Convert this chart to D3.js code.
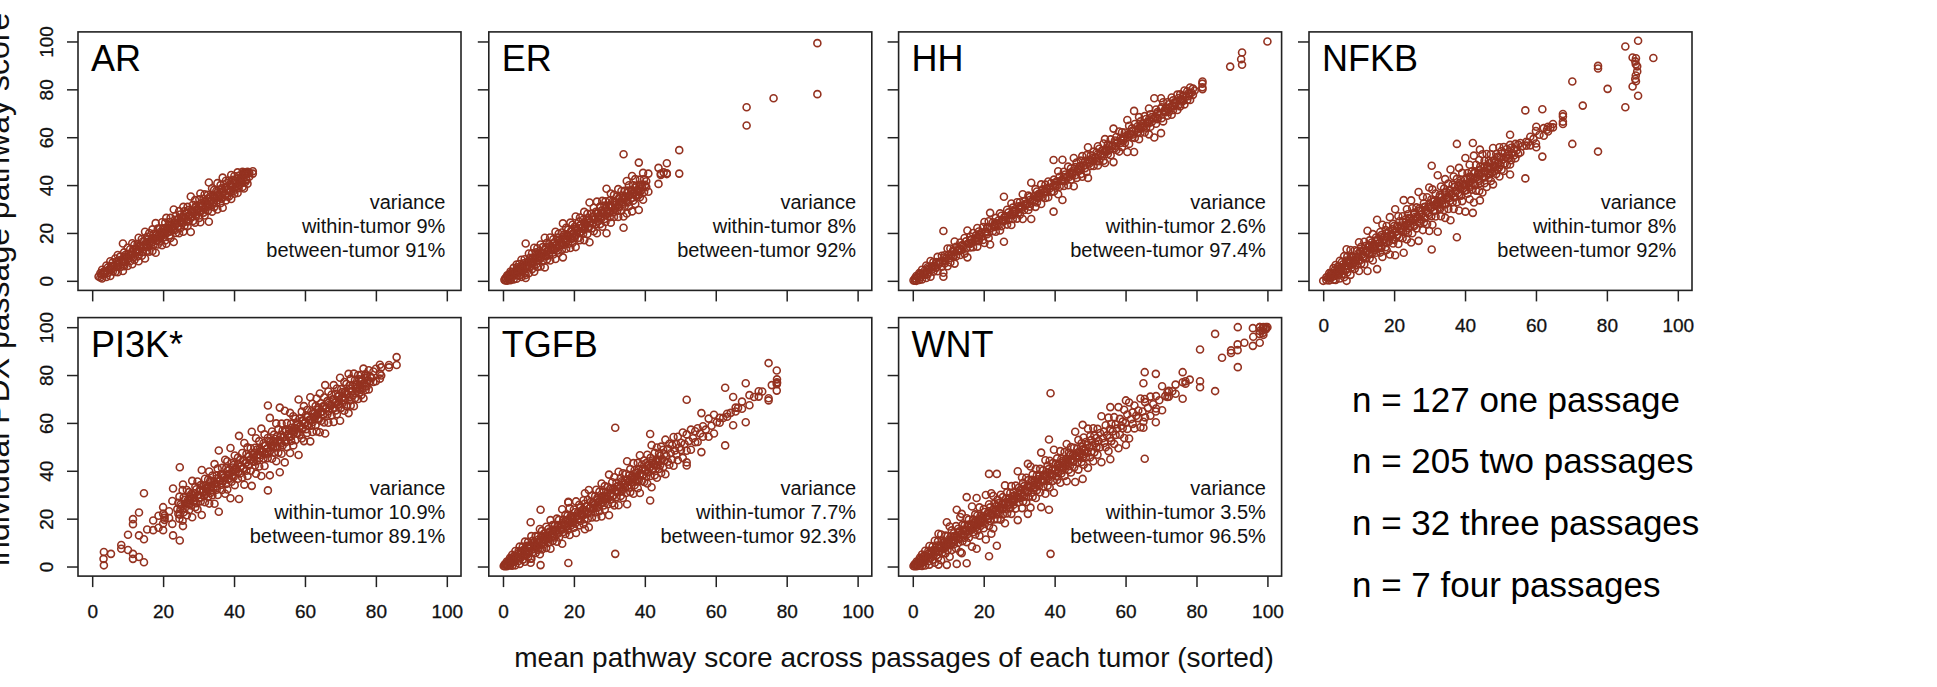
<!DOCTYPE html>
<html><head><meta charset="utf-8">
<script src="https://cdn.jsdelivr.net/npm/d3@7"></script>
<style>body{margin:0;background:#fff}svg{display:block}text{font-family:"Liberation Sans",Arial,sans-serif}</style>
</head><body><svg id="c" width="1937" height="687"></svg>
<script>
const pathways = ["AR","ER","HH","NFKB","PI3K*","TGFB","WNT"];
const withinTumor = ["9%","8%","2.6%","8%","10.9%","7.7%","3.5%"];
const betweenTumor = ["91%","92%","97.4%","92%","89.1%","92.3%","96.5%"];
const axisTicks = [0,20,40,60,80,100];
const nLines = ["n = 127 one passage","n = 205 two passages","n = 32 three passages","n = 7 four passages"];
const xTitle = "mean pathway score across passages of each tumor (sorted)";
const yTitle = "individual PDX passage pathway score";

// each entry = pathway scores of the passages of one tumor (x = their mean)
const AR = [[1.8],[3.2,1.4],[4.6,1.0],[3.2],[4.1,3.1],[6.4,1.6],[5.6,3.2],[4.7],[8.2,2.0],[6.2,4.6],[7.7,3.9],[6.2],[9.3,3.7],[8.0,5.8],[10.8,3.6],[7.6],[10.1,5.7],[8.9,7.7],[15.6,4.1,6.3],[11.9,6.1],[10.8,7.8],[9.7],[13.8,6.2],[11.2,9.4],[13.2,8.2],[11.0],[15.7,6.9],[13.3,9.9],[15.1,8.7],[12.2],[13.2,11.8],[15.4,10.2],[18.0,8.2],[14.7,12.1],[13.7],[17.5,10.5],[16.4,12.2],[15.0,14.2],[20.5,9.3],[15.2],[18.4,12.6],[17.4,14.2],[20.0,12.2],[16.4],[17.5,15.9],[21.5,12.5],[19.6,15.0],[17.6],[24.1,11.7],[19.6,16.8],[21.8,15.2],[18.8],[21.8,16.4],[20.0,18.8],[24.5,14.9],[21.9,18.1],[20.3],[24.3,16.9],[26.3,15.5],[22.3,20.1],[21.5],[24.6,19.0],[26.3,17.9],[23.3,21.5],[22.7],[29.8,16.2],[25.5,21.1],[27.2,20.0],[23.9],[25.7,22.7],[29.1,19.9],[27.7,21.9],[25.1],[26.1,24.7],[30.9,20.5],[29.1,22.9],[26.3],[28.4,24.8],[30.9,22.9],[29.6,24.8],[27.5],[35.2,20.4],[29.3,26.9],[31.8,25.0],[28.7],[33.7,24.3],[31.4,27.2],[30.1,29.1],[29.9],[34.1,26.3],[36.5,24.5],[32.4,29.2],[31.1],[34.3,28.5],[36.1,27.3],[32.9,31.1],[32.3],[35.9,29.3],[41.1,24.7],[35.2,31.2],[33.5],[38.7,28.9],[35.4,32.8],[38.0,30.8],[34.7],[37.5,32.5],[40.8,29.8],[36.3,34.9],[35.9],[40.0,32.4],[38.7,34.3],[43.1,30.5],[37.1],[38.9,35.9],[41.8,33.6],[40.8,35.2],[38.3],[41.9,35.3],[39.9,37.9],[44.2,34.2],[39.5],[42.2,37.4],[43.8,36.4],[41.8,39.0],[40.7],[45.3,36.7],[43.9,38.7],[41.7],[42.8,41.2],[45.6,39.2],[45.2,44.6,38.6],[45.1,41.3],[44.9,42.1],[45.3,40.6,45.5],[45.1,43.5],[45.8,44.8]];
const AR2 = [[2.6],[3.9,2.7],[5.0],[5.9,4.9],[7.1],[8.2,6.6],[9.0],[10.1,8.3],[10.6],[12.0,10.4],[12.9],[14.3,12.5],[14.4],[16.2,14.4],[16.0],[17.9,16.1],[17.2],[19.1,17.1],[18.4],[20.5,18.1],[19.8],[21.7,19.3],[21.0],[23.1,20.5],[22.2],[24.3,21.7],[23.5],[25.7,22.9],[24.7],[26.9,24.1],[26.0],[28.1,25.5],[27.0],[29.5,26.5],[28.4],[30.7,27.7],[29.4],[31.9,28.9],[30.8],[33.1,30.1],[32.0],[34.3,31.3],[33.2],[35.7,32.5],[34.4],[36.9,33.7],[35.6],[38.1,34.9],[36.8],[39.3,36.1],[38.0],[40.5,37.3],[39.2],[41.7,38.5],[40.4],[42.9,39.5],[41.4],[43.9,40.9],[42.4],[44.3,42.5]];

const ER = [[0.4],[1.2,0.2],[2.3,0.1],[1.3],[2.4,0.8],[3.9,0.3],[2.2],[3.7,1.3],[5.4,0.6],[3.1],[4.0,2.8],[6.8,0.9],[5.7,2.3],[4.3],[7.0,2.2],[5.8,4.0],[8.8,1.6],[5.5],[7.3,4.3],[9.0,3.2],[15.6,2.4,1.2],[6.7],[7.7,6.3],[11.4,3.2],[9.6,5.6],[7.9],[11.5,4.9],[9.6,7.4],[13.8,3.8],[9.1],[11.9,6.9],[13.6,5.8],[11.4,8.6],[10.3],[15.2,6.0],[11.7,10.1],[14.1,8.3],[11.5],[18.0,5.6],[14.0,10.2],[15.9,8.9],[12.7],[15.3,10.7],[18.1,8.5],[14.2,13.0],[13.9],[17.4,11.0],[16.1,12.9],[20.5,9.1],[15.1],[18.1,12.7],[19.7,11.7],[17.2,14.8],[16.3],[20.2,13.0],[24.0,9.8],[19.3,15.1],[17.5],[22.2,13.4],[19.0,17.2],[21.4,15.4],[18.7],[24.3,13.7],[21.1,17.5],[23.4,15.8],[19.9],[22.6,17.8],[26.9,14.1],[21.8,19.8],[21.1],[24.8,18.0],[26.4,17.0],[23.6,20.4],[22.3],[25.5,19.7],[28.8,17.0],[23.9,22.5],[23.5],[28.0,19.6],[26.3,21.9],[32.7,16.1],[24.7],[28.1,21.9],[26.6,24.0],[30.5,20.7],[25.9],[28.8,23.6],[33.1,19.9],[28.7,24.9],[27.1],[31.1,23.7],[28.5,26.9],[33.4,22.6],[28.3],[31.4,25.8],[33.2,24.6],[38.5,19.9],[29.5],[31.3,28.3],[33.6,26.6],[36.5,24.3],[30.7],[33.3,28.7],[35.9,26.7],[32.7,30.5],[31.9],[35.2,29.2],[38.3,26.7],[34.8,30.8],[33.1],[37.5,29.3],[34.6,32.8],[52.9,22.2,26.9],[37.6,31.0],[34.6],[41.7,28.1],[37.7,32.7],[39.9,31.1],[35.8],[37.7,34.5],[43.8,29.0],[39.9,33.5],[37.0],[42.5,32.1],[39.7,35.5],[37.9],[49.4,29.6,35.9],[42.3,34.9],[40.1,37.7],[39.2],[45.1,33.9],[42.5,37.1],[40.1],[41.6,39.2],[44.8,37.2],[47.2,40.5],[44.8,44.2],[45.3],[49.1,44.9,44.6],[54.6,44.8],[72.5,64.9],[76.3],[99.3,78]];
const ER2 = [[1.6],[2.9,1.5],[3.6],[4.9,3.3],[5.2],[6.6,4.8],[6.4],[8.0,6.0],[7.6],[9.2,7.2],[8.9],[10.6,8.2],[10.0],[11.8,9.4],[11.2],[13.0,10.6],[12.5],[14.4,11.8],[13.6],[15.6,13.0],[14.8],[16.8,14.2],[16.0],[18.2,15.4],[17.2],[19.4,16.6],[18.4],[20.6,17.8],[19.6],[21.8,19.0],[20.8],[23.0,20.2],[22.0],[24.4,21.4],[23.3],[25.6,22.6],[24.4],[26.8,23.8],[25.6],[28.0,25.0],[26.8],[29.4,26.2],[28.0],[30.6,27.4],[29.2],[31.8,28.6],[30.4],[33.0,29.8],[31.6],[34.2,31.0],[32.8],[35.6,32.2],[34.0],[36.8,33.4],[35.2],[38.0,34.6],[36.4],[39.0,35.8],[37.6],[40.0,37.0],[38.6]];

const HH = [[0.2],[1.1,0.1],[2.0,0.0],[1.4],[3.2,0.4],[2.8,1.6],[4.6,0.6],[3.0],[4.3,2.5],[6.4,1.2],[5.7,2.7],[4.6],[8.3,1.7],[6.1,4.7],[7.8,3.8],[6.2],[7.8,5.4],[10.0,4.0],[7.8,7.0],[7.8],[10.5,5.9],[20.8,1.7,3.4],[10.7,7.3],[9.4],[13.5,6.1],[11.0,9.4],[13.5,7.7],[11.0],[12.8,10.0],[16.4,7.2],[14.2,10.2],[12.6],[13.5,12.5],[16.0,10.8],[14.8,12.8],[14.2],[17.9,11.3],[16.5,13.5],[21.0,9.8],[15.8],[18.5,13.9],[17.3,15.9],[20.0,14.0],[17.4],[19.0,16.6],[22.1,14.3],[20.6,16.6],[19.0],[20.3,18.5],[22.5,17.1],[24.6,15.8],[20.6],[22.5,19.5],[24.9,17.9],[28.4,15.2],[22.2],[24.5,20.7],[23.5,22.5],[26.3,20.5],[23.8],[25.3,23.1],[28.2,21.0],[27.2,22.8],[25.4],[35.1,16.3],[27.0,25.4],[29.7,23.5],[28.6,25.4],[27.4],[32.3,23.3],[30.6,25.8],[29.2,28.0],[29.0],[32.8,26.0],[31.1,28.5],[32.8,27.6],[30.6],[36.2,25.8],[33.2,29.6],[32.2,31.4],[32.2],[35.6,29.6],[35.0,31.0],[41.0,25.8],[33.8],[35.4,33.0],[38.3,30.9],[37.3,32.7],[35.4],[36.6,35.0],[40.3,32.1],[38.2,35.0],[37.0],[40.2,34.6],[38.3,37.3],[41.5,34.9],[38.6],[40.9,37.1],[50.5,28.9],[42.3,37.3],[40.2],[41.6,39.6],[45.8,36.2],[43.5,39.3],[41.8],[33.8,50.6,42.2],[45.6,39.6],[44.4,41.6],[43.4],[47.7,39.9],[44.9,43.5],[47.0,42.2],[45.0],[51.3,39.5],[47.5,44.1],[49.4,43.0],[46.6],[47.9,46.1],[50.2,44.6],[52.1,43.5],[48.2],[50.1,47.1],[52.5,45.5],[55.8,43.0],[49.8],[52.4,48.0],[51.2,50.0],[54.0,48.0],[51.4],[53.6,50.0],[56.2,48.2],[55.2,50.0],[53.0],[54.5,52.3],[57.4,50.2],[59.2,49.2],[54.6],[57.0,53.0],[56.2,54.6],[59.1,52.5],[56.2],[63.6,49.6],[58.6,55.4],[60.1,54.7],[57.8],[62.4,54.0],[59.6,57.6],[62.1,55.9],[59.4],[62.0,57.6],[67.2,53.8],[61.1,60.1],[64.8,57.2],[61.4],[63.7,59.9],[71.0,53.8],[65.5,59.7],[63.0],[64.6,62.2],[68.4,59.2],[66.6,61.8],[64.6],[65.7,64.3],[68.8,62.0],[67.6,64.0],[66.2],[72.0,61.2],[69.6,64.4],[68.4,66.4],[67.8],[76.3,59.9],[71.6,65.6],[70.5,67.5],[69.4],[76.3,61.7,72],[72.5,67.9],[74.6,66.6],[71.0],[72.3,70.5],[74.6,69.0],[73.8,70.6],[72.6],[76.6,69.4],[75.4,71.4],[74.4,73.2],[74.2],[77.8,71.4],[76.4,73.6],[77.9,72.9],[75.8],[77.3,75.1],[79.5,73.7],[77.0],[79.2,75.6],[78.5,77.1],[80.8,75.6],[78.6],[80.3,77.7],[79.5],[83.3,80.1],[82.4,80.9],[89.5],[95.4,90.3],[92.6],[100]];
const HH2 = [[0.9],[2.6,1.4],[3.6],[5.0,3.6],[6.0],[7.4,5.8],[8.4],[9.8,8.2],[10.8],[12.2,10.6],[13.2],[14.6,13.0],[15.6],[17.0,15.4],[18.0],[19.4,17.8],[20.4],[21.8,20.2],[22.8],[24.2,22.6],[25.2],[26.6,25.0],[27.6],[29.0,27.4],[30.0],[31.4,29.8],[32.4],[33.8,32.2],[34.8],[36.2,34.6],[37.2],[38.6,37.0],[39.6],[41.0,39.4],[42.0],[43.4,41.8],[44.4],[45.8,44.2],[46.8],[48.2,46.6],[49.2],[50.6,49.0],[51.6],[53.0,51.4],[54.0],[55.4,53.8],[56.4],[57.8,56.2],[58.8],[60.2,58.6],[61.2],[62.6,61.0],[63.6],[65.0,63.4],[66.0],[67.4,65.8],[68.4],[69.8,68.2],[70.8],[72.2,70.6],[73.2],[74.6,73.0],[75.6],[77.0,75.4],[78.0]];

const NFKB = [[0],[0,13.2],[1.5,0.3],[1.3],[3.2,0.2],[2.9,1.3],[2.5],[5.3,0.5],[4.4,2.0],[6.6,0.4],[3.8],[5.9,2.3],[4.9,3.9],[8.4,1.0],[5.0],[7.9,2.7],[6.9,4.3],[10.3,1.5],[6.2],[8.5,4.5],[10.1,3.5],[8.0,6.2],[7.4],[12.9,2.5],[10.4,5.6],[9.8,6.8],[8.6],[12.8,5.0],[9.9,8.5],[12.4,6.6],[9.8],[16.1,4.1],[12.3,8.5],[14.2,7.2],[11.0],[12.4,10.2],[16.3,6.9],[14.5,9.3],[12.2],[20.9,4.1],[14.4,11.2],[16.9,9.3],[13.4],[16.0,11.4],[19.5,8.5],[15.1,13.5],[14.6],[18.1,11.7],[25.5,4.9],[17.4,13.6],[15.8],[20.4,11.8],[19.1,13.7],[23.4,10.0],[17.0],[18.6,16.0],[21.2,14.0],[22.9,12.9],[18.2],[20.7,16.3],[26.6,11.0],[19.7,18.5],[19.4],[23.8,15.6],[22.9,17.1],[29.9,10.7],[20.6],[22.6,19.2],[27.0,15.4],[24.9,18.1],[21.8],[23.1,21.1],[27.0,17.8],[33.7,11.7],[23.0],[25.7,20.9],[29.9,17.3],[27.8,20.0],[24.2],[26.0,23.0],[33.6,16.0],[30.3,19.9],[25.4],[28.5,22.9],[26.8,25.2],[30.7,21.9],[26.6],[37.1,16.7],[30.3,24.1],[29.4,25.6],[27.8],[35.0,21.2],[32.4,24.4],[30.9,26.5],[29.0],[34.9,23.7],[30.8,28.4],[39.0,20.8],[30.2],[48.1,13.1],[34.0,27.0],[38.2,23.4],[33.1,29.1],[31.4],[36.5,26.9],[32.7,31.3],[44.1,20.5],[32.6],[35.9,29.9],[39.4,27.0],[35.1,31.9],[33.8],[38.6,29.6],[42.5,26.3],[37.3,32.1],[35.0],[40.6,30.0],[36.6,34.6],[46.5,25.3],[36.2],[40.2,32.8],[43.6,30.0],[39.2,35.0],[37.4],[57.2,18.2],[42.6,32.8],[39.4,36.6],[47.2,29.4],[38.6],[42.2,35.6],[45.1,33.3],[40.3,38.7],[39.8],[51.3,28.9],[42.9,37.9],[45.0,36.4],[41.0],[48.5,34.1],[43.4,39.8],[45.7,38.1],[57.6,28.4,40.6],[42.2],[52.3,32.7],[45.7,39.9],[48.5,37.7],[43.4],[44.9,42.5],[50.5,37.5],[54.8,33.6],[47.7,40.9],[44.6],[52.9,36.9],[47.2,43.2],[50.2,40.8],[45.8],[53.0,39.2],[47.9,44.9],[50.3,43.1],[47.0],[52.9,41.7],[50.0,45.2],[55.5,40.3],[48.2],[49.4,47.6],[53.0,44.6],[51.8,46.4],[49.4],[55.8,43.6],[51.6,48.4],[54.2,46.4],[50.6],[55.9,45.9],[53.4,49.0],[51.5],[55.1,48.5],[53.1,51.1],[61,44.4],[52.4],[56.8,48.6],[55.6,50.4],[53.4],[55.2,52.4],[57.2,51.2],[54.6],[56.9,53.1],[57.6,53.6],[56.2],[71.2,42.8],[58.1,56.5],[57.8],[60.2,56.6],[59.3],[62.6,57.4],[64.4,55.8],[61.0],[71.7,51.9],[63.8,60.6],[63.1],[64.4,62.4],[64.1],[65.5,64.1],[69.7,65.5],[66.5,68.7],[83.3,57.2],[73.2],[89.8,54,88.7],[80.2],[72.5,97.9],[100.3,77.3],[93.3,81.2],[91.7,84.3],[89.6,87.5],[93,83.4],[90.5,85.8],[93.1]];
const NFKB2 = [[1.9],[3.4,1.6],[4.2],[5.9,3.3],[6.0],[7.9,5.1],[7.8],[9.8,6.8],[9.4],[11.4,8.4],[11.0],[13.2,9.8],[12.6],[14.8,11.4],[14.2],[16.6,12.8],[15.8],[18.2,14.4],[17.4],[19.8,16.0],[19.0],[21.6,17.4],[20.4],[23.0,18.8],[22.0],[24.6,20.4],[23.6],[26.2,22.0],[25.0],[27.8,23.4],[26.4],[29.4,24.8],[27.8],[30.8,26.2],[29.2],[32.2,27.6],[30.6],[33.6,29.2],[32.0],[35.0,30.6],[33.4],[36.6,32.0],[34.8],[38.0,33.4],[36.0],[39.4,34.8],[37.4],[40.8,36.0],[38.8],[42.2,37.6],[40.2],[43.6,39.0],[41.4],[45.0,40.4],[42.8],[46.4,41.8],[44.0],[47.8,43.2],[45.4],[49.2,44.6],[46.6],[50.4,46.0],[48.0],[51.8,47.4],[49.4]];

const PI3K = [[3.2],[6.1,0.5],[5.3],[7.4,9],[6.9,13.3],[5.3,17.7],[3.2,19.8],[4,13,22.6],[1.8,30.6,11.4],[15.5],[19.2,15.2],[24.8,15.2],[22,18],[13,32.6],[10.9,41.5,21.7],[16.9,34.3],[19.5,21.3],[21.2,16.2],[20.4],[23.1,20.3],[17.8,27.4],[24.0],[26.6,22.0],[29.2,20.0],[25.9,23.9],[25.2],[31.9,19.1],[28.9,22.7],[27.9,24.3],[26.4],[32.0,21.4],[27.8,26.2],[31.1,23.5],[27.6],[30.3,25.5],[35.8,20.6],[29.8,27.2],[28.8],[33.4,24.8],[32.3,26.5],[35.5,23.9],[30.0],[31.9,28.7],[34.0,27.2],[40.3,21.5],[31.2],[33.6,29.4],[36.7,26.9],[32.8,31.4],[32.4],[36.3,29.1],[39.7,26.3],[35.9,30.7],[33.6],[38.0,29.8],[35.6,32.8],[42.8,26.2],[34.8],[38.1,32.1],[40.9,29.9],[48.5,22.9],[36.0],[38.5,34.1],[41.2,32.0],[38.0,35.8],[37.2],[44.6,30.4],[41.1,34.5],[44.0,32.2],[38.4],[40.6,36.8],[49.5,28.5],[43.2,35.4],[39.6],[42.4,37.4],[46.4,34.0],[41.4,39.6],[40.8],[45.5,36.7],[54.6,28.2],[44.5,38.9],[42.0],[47.4,37.2],[44.1,41.1],[51.6,34.2],[43.2],[47.0,40.0],[49.8,37.8],[46.1,42.1],[44.4],[49.4,40.0],[56.3,33.7],[46.5,44.1],[45.6],[49.6,42.2],[53.6,38.8],[48.9,44.1],[46.8],[52.4,41.8],[48.2,46.6],[57.6,37.8],[48.0],[51.5,45.1],[55.2,42.0],[50.6,47.2],[49.2],[67.3,31.8],[53.7,45.3],[52.4,47.2],[62.1,38.1],[50.4],[56.4,45.0],[52.3,49.7],[55.1,47.5],[51.6],[59.8,44.0],[54.4,50.0],[57.4,47.6],[52.8],[39.4,66.4],[54.1,52.1],[59.7,47.1],[56.8,50.6],[54.0],[65.1,43.5],[57.3,51.9],[59.9,49.9],[55.2],[57.1,53.9],[64.2,47.4],[59.7,52.5],[56.4],[62.8,50.6],[57.9,56.1],[61.8,52.8],[57.6],[60.2,55.6],[69.8,46.6],[61.9,55.1],[58.8],[64.7,53.5],[60.8,58.0],[67.0,52.4],[60.0],[63.2,57.4],[65.4,55.8],[62.8,59.0],[61.2],[70.7,52.3],[64.8,58.8],[68.0,56.2],[62.4],[63.8,61.6],[67.0,59.0],[70.2,56.4],[63.6],[66.4,61.4],[72.3,56.1],[68.2,60.8],[64.8],[66.6,63.6],[70.6,60.2],[75.8,55.6],[66.0],[69.1,63.5],[73.1,60.1],[67.7,66.1],[67.2],[71.8,63.2],[69.9,65.7],[75.8,60.4],[68.4],[72.2,65.2],[74.4,63.6],[71.0,67.6],[69.6],[78.9,60.9],[74.1,66.3],[72.9,68.1],[70.8],[77.1,65.1],[72.6,70.2],[76.3,67.1],[72.0],[80.5,64.1],[75.7,69.5],[78.5,67.3],[73.2],[75.5,71.5],[80.6,67.0],[77.9,70.3],[74.4],[76.1,73.3],[80.0,70.0],[78.2,72.4],[75.6],[80.1,71.7],[78.0,74.4],[82.7,70.3],[76.8],[80.4,73.8],[79.6,75.2],[77.7],[82.0,74.0],[79.4,77.4],[78.8],[81.5,77.1],[82.6,77.4],[80.6,78.5,84.3],[83.2,79.8],[83.2,84.2],[87.5,84.2]];
const PI3K2 = [[26.9],[29.0,26.0],[28.2],[30.6,27.2],[29.8],[32.2,28.8],[31.4],[33.8,30.4],[32.8],[35.4,31.8],[34.4],[36.8,33.4],[35.8],[38.4,34.8],[37.4],[40.0,36.4],[38.8],[41.4,37.8],[40.4],[43.0,39.4],[41.8],[44.4,40.8],[43.4],[46.0,42.4],[44.8],[47.4,43.8],[46.4],[49.0,45.4],[47.8],[50.4,46.8],[49.4],[52.0,48.4],[50.8],[53.4,49.8],[52.4],[55.0,51.4],[53.8],[56.4,52.8],[55.4],[58.0,54.4],[56.8],[59.4,55.8],[58.4],[61.0,57.4],[59.8],[62.4,58.8],[61.4],[64.0,60.4],[62.8],[65.4,61.8],[64.4],[67.0,63.4],[65.8],[68.4,64.8],[67.4],[70.0,66.4],[68.8],[71.4,67.8],[70.4],[73.0,69.4],[71.8],[74.4,70.8],[73.4],[76.0,72.4],[74.8],[77.4,73.8],[76.2],[78.8,75.4]];

const TGFB = [[0.2],[0.9,0.1],[0.8],[2.1,0.1],[2.0,0.8],[1.7],[3.6,0.4],[3.2,1.4],[4.9,0.3],[2.9],[4.4,2.0],[6.5,0.5],[4.3,3.3],[4.1],[6.5,2.3],[8.3,1.1],[6.4,3.6],[5.3],[8.3,2.9],[6.7,5.1],[10.4,2.0],[6.5],[8.7,4.9],[10.3,3.9],[8.4,6.4],[18.5,1.6,3.3],[7.7],[12.7,3.3],[10.7,5.9],[9.9,7.3],[8.9],[12.7,5.7],[10.1,8.9],[12.6,7.0],[10.1],[23.7,0.6,7.5],[15.7,5.1],[12.4,9.0],[14.9,7.1],[11.3],[13.8,9.4],[12.8,11.0],[16.6,7.8],[12.5],[15.7,9.9],[14.6,11.6],[19.4,7.4],[13.7],[17.3,10.7],[15.0,13.6],[17.1,12.1],[14.9],[20.0,10.4],[17.3,13.7],[19.5,12.1],[16.1],[17.5,15.3],[23.9,9.5],[19.6,14.4],[17.3],[21.6,13.6],[19.3,16.5],[21.2,15.2],[1.5,26.8,27],[18.5],[24.4,13.2],[21.1,17.1],[20.2,18.6],[19.7],[23.8,16.2],[22.7,17.9],[27.2,14.0],[20.9],[22.5,19.9],[25.8,17.2],[24.6,19.0],[22.1],[23.0,21.8],[27.7,17.7],[30.6,15.6],[26.2,19.8],[23.3],[25.3,21.9],[27.8,20.0],[32.0,16.4],[24.5],[27.0,22.6],[29.7,20.5],[26.4,24.4],[25.7],[29.4,22.6],[32.1,20.5],[28.6,24.6],[26.9],[31.3,23.1],[28.9,26.1],[34.7,20.9],[28.1],[31.3,25.5],[33.6,23.8],[29.7,28.3],[29.3],[33.2,26.0],[38.4,21.4],[32.5,27.9],[30.5],[35.2,26.4],[32.7,29.5],[58,5.3],[37.3,25.5],[31.7],[35.0,29.0],[33.4,31.2],[39.6,25.6],[32.9],[36.9,29.5],[35.6,31.4],[39.0,28.6],[34.1],[35.9,32.9],[38.7,30.7],[44.0,26.0],[35.3],[38.2,33.0],[40.7,31.1],[37.1,35.3],[36.5],[43.2,30.4],[40.2,34.0],[39.2,35.6],[37.7],[43.3,32.7],[40.7,35.9],[46.5,30.7],[38.9],[42.6,35.8],[40.7,38.3],[44.3,35.3],[40.1],[43.2,37.6],[46.7,34.7],[42.6,39.4],[41.3],[55.4,27.6],[45.4,37.8],[50.7,33.1],[44.3,40.1],[42.5],[47.5,38.1],[44.1,42.1],[49.7,37.1],[43.7],[47.2,40.8],[46.3,42.3],[50.1,39.1],[44.9],[48.8,41.6],[46.9,44.1],[53.0,38.6],[46.1],[49.2,43.8],[51.3,42.5],[47.3],[50.7,44.7],[54.1,42.1],[48.5],[51.1,46.7],[54.2,44.4],[49.7],[51.7,48.7],[56.0,45.4],[51.2],[69.7,42.2,43.5],[55.2,48.4],[52.4],[57.2,48.8],[53.6],[56.5,51.9],[57.8,52.0],[55.6],[64.1,47.8],[58.6,54.2],[57.2],[61.8,54.2],[58.8],[63.4,55.6],[60.3],[62.1,60.1],[62.1],[74.7,50.6],[63.8,62.6],[64.2],[70.8,59],[66.4,64.8],[66.3],[68.9,65.9],[76.6,60.3],[71.6,67.4],[70.8],[73.2,71.0],[73.1],[85,69.4,70.3],[75.8],[81.9,73.5,76.2],[77,78.2,76.6]];
const TGFB2 = [[1.1],[2.6,1.0],[2.6],[4.1,2.3],[3.9],[5.6,3.4],[5.2],[7.0,4.6],[6.5],[8.4,5.8],[7.9],[9.8,7.2],[9.2],[11.2,8.6],[10.6],[12.6,10.0],[12.0],[14.0,11.4],[13.4],[15.4,12.8],[14.8],[16.8,14.2],[16.2],[18.2,15.6],[17.6],[19.6,17.0],[19.0],[21.0,18.4],[20.4],[22.4,19.8],[21.8],[23.8,21.2],[23.2],[25.2,22.6],[24.6],[26.6,24.0],[26.0],[28.0,25.4],[27.4],[29.4,26.8],[28.8],[30.8,28.2],[30.2],[32.2,29.6],[31.6],[33.6,31.0],[33.0],[35.0,32.4],[34.4],[36.4,33.8],[35.8],[37.8,35.2],[37.2],[39.2,36.6],[38.6],[40.6,38.0],[40.0],[42.0,39.4],[41.4],[43.4,40.8],[42.8],[44.8,42.2],[44.2]];

const WNT = [[0.2],[0.9,0.1],[0.8],[2.1,0.1],[1.9,0.9],[1.7],[3.7,0.3],[3.2,1.4],[5.0,0.2],[2.9],[4.5,1.9],[6.6,0.4],[4.4,3.2],[4.1],[6.6,2.2],[8.6,0.8],[6.5,3.5],[5.3],[8.4,2.8],[6.7,5.1],[10.8,1.6],[6.5],[8.8,4.8],[10.5,3.7],[13.7,0.8],[8.5,6.3],[7.7],[13.4,2.6],[10.8,5.8],[10.0,7.2],[8.9],[12.9,5.5],[18.5,0.7],[10.2,8.8],[12.7,6.9],[10.1],[16.7,4.1],[12.5,8.9],[15.1,6.9],[11.3],[13.9,9.3],[12.8,11.0],[16.9,7.5],[23.7,1.1],[12.5],[15.8,9.8],[14.7,11.5],[20.7,6.1],[13.7],[22,5.6],[17.4,10.6],[15.1,13.5],[17.2,12.0],[14.9],[29,1.4],[20.2,10.2],[17.4,13.6],[19.6,12.0],[16.1],[17.6,15.2],[25.1,8.3],[19.7,14.3],[17.3],[21.8,13.4],[19.4,16.4],[7.4,28.6],[21.3,15.1],[18.5],[24.7,12.9],[21.2,17.0],[20.2,18.6],[19.7],[24.0,16.0],[22.8,17.8],[29.9,11.3],[20.9],[22.5,19.9],[38.7,4.3],[26.0,17.0],[24.7,18.9],[22.1],[30.6,13.7],[23.0,21.8],[29.5,15.9],[26.3,19.7],[23.3],[38.7,8.7],[25.4,21.8],[28.0,19.8],[26.5,21.9],[24.5],[30.0,19.6],[26.1,24.1],[29.0,21.8],[25.7],[33.9,18.1],[28.4,24.2],[31.0,22.2],[26.9],[28.6,25.8],[30.7,24.3],[33.6,22.0],[28.1],[31.0,25.8],[29.6,27.8],[33.8,24.2],[29.3],[39.8,19.4],[32.9,26.9],[31.9,28.5],[30.5],[37.2,24.4],[35.0,27.2],[33.6,29.2],[31.7],[37.1,26.9],[42.9,22],[33.4,31.2],[36.1,29.1],[32.9],[41.8,24.6],[36.2,30.8],[38.4,29.2],[34.1],[35.9,32.9],[40.8,28.6],[38.1,31.9],[35.3],[37.6,33.6],[40.8,31.0],[47.6,24.8],[36.5],[40.2,33.4],[38.4,35.8],[44.4,30.4],[37.7],[42.2,33.8],[40.7,35.9],[23.7,53.1],[72.4,5.3],[44.2,33.0],[38.9],[40.2,38.2],[43.2,35.8],[48.8,30.8],[40.1],[43.0,37.8],[45.2,36.2],[42.7,39.3],[41.3],[48.2,35.0],[44.9,38.9],[44.2,40.2],[42.5],[47.8,37.8],[44.3,41.9],[51.2,35.6],[43.7],[47.6,40.4],[46.6,42.0],[49.9,39.3],[44.9],[46.7,43.7],[49.6,41.4],[56.3,35.3],[46.1],[49.2,43.6],[52.9,40.5],[48.0,46.0],[47.3],[36.6,59.2],[51.5,43.7],[50.1,45.7],[53.9,42.5],[48.5],[52.0,45.6],[50.7,47.5],[57.6,41.2],[49.7],[54.4,45.6],[52.8,47.8],[50.6],[57.8,44.0],[54.7,47.7],[51.5],[53.7,49.9],[57.5,46.7],[52.4],[55.8,49.8],[62.8,43.6],[53.6],[56.4,51.6],[59.0,49.8],[54.8],[62.2,48.2],[66.6,44.8],[57.4,53.8],[59.6,52.4],[56.4],[62.4,51.2],[59.4,55.0],[57.6],[66.6,49.4],[61.7,55.1],[58.8],[60.6,57.8],[65.5,53.7],[69.4,50.8],[60.0],[63.5,57.5],[68.5,53.5],[61.5],[64.4,59.6],[67.3,57.7],[63.0],[65.2,62.0],[70.2,58.2],[64.8],[81.2,45,70],[76.6,60.5,58],[68.7,62.3],[66.3],[71.0,63.0],[67.8],[80.5,60.3,64.8],[71.2,66.0],[69.5],[75.3,65.3],[71.2],[70.8,72.8],[73.4,71.0],[73.2],[76,72.2],[81.2,70.1,77],[77.4,76.4],[78.1],[77.4,74.9,90.7],[73.3,97.2],[87.2],[83.3,100],[90.3,89.2],[92.8,90.4],[93.5],[92.2,99.6],[93.5,100,100],[96],[97.2,98.4],[99.2,100],[98.6],[100,96.8,99.8],[100],[97.6,99.8],[99.5]];
const WNT2 = [[1.1],[2.7,1.1],[2.5],[4.1,2.3],[3.9],[5.5,3.5],[5.3],[7.0,4.8],[6.7],[8.4,6.2],[8.1],[9.8,7.6],[9.5],[11.2,9.0],[10.9],[12.6,10.4],[12.3],[14.0,11.8],[13.7],[15.4,13.2],[15.1],[16.8,14.6],[16.5],[18.2,16.0],[17.9],[19.6,17.4],[19.3],[21.0,18.8],[20.7],[22.4,20.2],[22.1],[23.8,21.6],[23.5],[25.2,23.0],[24.9],[26.6,24.4],[26.3],[28.0,25.8],[27.7],[29.4,27.2],[29.1],[30.8,28.6],[30.5],[32.2,30.0],[31.9],[33.6,31.4],[33.3],[35.0,32.8],[34.7],[36.4,34.2],[36.1],[37.8,35.6],[37.5],[39.2,37.0],[38.9],[40.6,38.4],[40.3],[42.0,39.8],[41.7],[43.4,41.2],[43.1],[44.8,42.6],[44.5],[46.2,44.0],[45.9],[47.6,45.4],[47.3],[49.0,46.8],[48.7]];

const passagesByPathway = [AR.concat(AR2), ER.concat(ER2), HH.concat(HH2), NFKB.concat(NFKB2), PI3K.concat(PI3K2), TGFB.concat(TGFB2), WNT.concat(WNT2)];

const svg = d3.select("#c");
const W = 383, H = 258.5;
const colX = [78, 488.8, 898.6, 1309];
const rowY = [31.9, 317.6];
const ptColor = "#943220", ink = "#222";

pathways.forEach((name, i) => {
  const r = Math.floor(i / 4), c = i % 4;
  const x0 = colX[c], y0 = rowY[r];
  const x = d3.scaleLinear().domain([-4, 104]).range([x0, x0 + W]);
  const y = d3.scaleLinear().domain([-4, 104]).range([y0 + H, y0]);
  const g = svg.append("g");

  const pts = [];
  passagesByPathway[i].forEach(t => { const m = d3.mean(t); t.forEach(v => pts.push([m, v])); });
  g.append("g").selectAll("circle").data(pts).join("circle")
    .attr("cx", d => x(d[0])).attr("cy", d => y(d[1])).attr("r", 3.5)
    .attr("fill", "none").attr("stroke", ptColor).attr("stroke-width", 1.6);

  g.append("rect").attr("x", x0).attr("y", y0).attr("width", W).attr("height", H)
    .attr("fill", "none").attr("stroke", ink).attr("stroke-width", 1.6);

  const showX = r === 1 || c === 3;
  const xa = g.append("g").attr("transform", `translate(0,${y0 + H})`)
    .call(d3.axisBottom(x).tickValues(axisTicks).tickSize(11).tickFormat(showX ? d3.format("d") : () => ""));
  xa.select(".domain").remove();
  xa.selectAll("line").attr("stroke", ink).attr("stroke-width", 1.5);
  xa.selectAll("text").attr("y", 42).attr("dy", null).attr("font-size", 19)
    .attr("font-family", "Liberation Sans, Arial, sans-serif").attr("fill", "#111")
    .attr("stroke", "#111").attr("stroke-width", 0.3);

  const showY = c === 0;
  const ya = g.append("g").attr("transform", `translate(${x0},0)`)
    .call(d3.axisLeft(y).tickValues(axisTicks).tickSize(11).tickFormat(showY ? d3.format("d") : () => ""));
  ya.select(".domain").remove();
  ya.selectAll("line").attr("stroke", ink).attr("stroke-width", 1.5);
  ya.selectAll("text").attr("x", null).attr("dy", null).attr("text-anchor", "middle")
    .attr("transform", "translate(-25,0) rotate(-90)").attr("font-size", 19)
    .attr("font-family", "Liberation Sans, Arial, sans-serif").attr("fill", "#111")
    .attr("stroke", "#111").attr("stroke-width", 0.3);

  g.append("text").attr("x", x0 + 13).attr("y", y0 + 39).attr("font-size", 36).attr("fill", "#000").text(name);

  const vx = x(100) - 1.5, vb = y0 + H;
  const lines = ["variance", "within-tumor " + withinTumor[i], "between-tumor " + betweenTumor[i]];
  [81, 57, 33.3].forEach((off, k) => {
    g.append("text").attr("x", vx).attr("y", vb - off).attr("text-anchor", "end")
      .attr("font-size", 20).attr("fill", "#111").text(lines[k]);
  });
});

nLines.forEach((t, k) => {
  svg.append("text").attr("x", 1352).attr("y", 411.7 + k * 61.7).attr("font-size", 35).attr("fill", "#000").text(t);
});

svg.append("text").attr("x", 894).attr("y", 667).attr("text-anchor", "middle").attr("font-size", 28).attr("fill", "#111").text(xTitle);
svg.append("text").attr("transform", "translate(9,566) rotate(-90)").attr("font-size", 32).attr("fill", "#111").text(yTitle);
</script></body></html>
